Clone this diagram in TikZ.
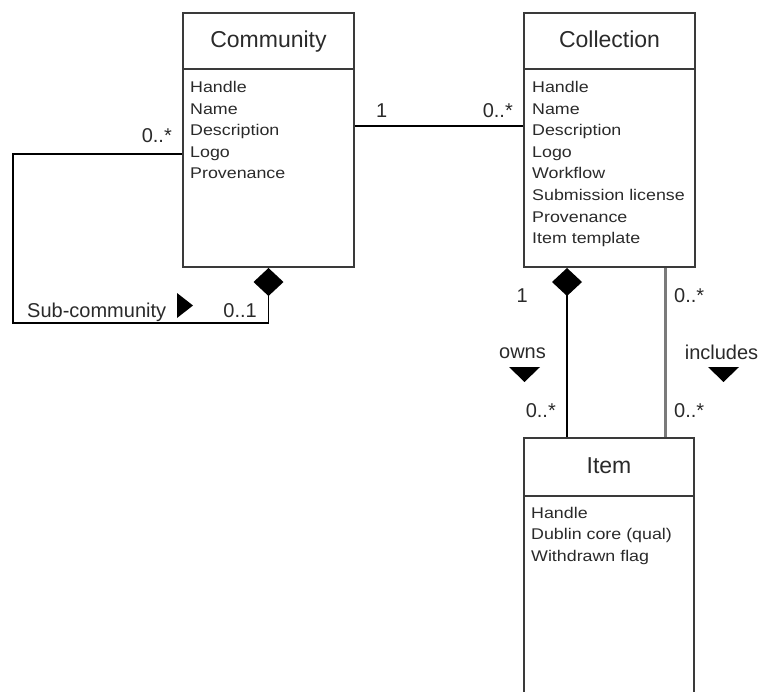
\documentclass[tikz,border=0pt]{standalone}
\usepackage{fontspec}
\setmainfont{Liberation Sans}
\newfontfamily\attrfont[FakeStretch=1.15]{Liberation Sans}
\usetikzlibrary{arrows.meta,calc}
\definecolor{boxgray}{HTML}{3A3A3A}
\definecolor{txt}{HTML}{2A2A2A}
\definecolor{lightline}{HTML}{7A7A7A}
\begin{document}
\begin{tikzpicture}[x=1pt,y=-1pt,
  box/.style={draw=boxgray, line width=2pt, inner sep=0pt},
  title/.style={font=\fontsize{23}{27}\selectfont, text=txt, inner sep=0pt, anchor=base},
  attr/.style={font=\attrfont\fontsize{15.5}{21.6}\selectfont, text=txt, inner sep=0pt, anchor=base west},
  lbl/.style={font=\fontsize{20}{24}\selectfont, text=txt, inner sep=0pt},
  conn/.style={line width=1.8pt, draw=black},
  comp/.style={-{Diamond[length=28pt,width=30pt]}},
  tri/.style={fill=black}]
\useasboundingbox (0,0) rectangle (759,691);
\clip (0,0) rectangle (759,691);
% boxes
\node[box, minimum width=171pt, minimum height=254pt] (comm) at (268.5,140) {};
\node[box, minimum width=171pt, minimum height=254pt] (coll) at (609.5,140) {};
\node[box, minimum width=170pt, minimum height=330pt] (item) at (609,603) {};
% header separators
\coordinate (hdA) at (0,69);
\coordinate (hdB) at (0,496);
\draw[draw=boxgray, line width=2pt] (comm.west |- hdA) -- (comm.east |- hdA);
\draw[draw=boxgray, line width=2pt] (coll.west |- hdA) -- (coll.east |- hdA);
\draw[draw=boxgray, line width=2pt] (item.west |- hdB) -- (item.east |- hdB);
% titles
\node[title] (commT) at (268.5,47) {Community};
\node[title] (collT) at (609.5,47) {Collection};
\node[title] (itemT) at (609,473) {Item};
% attributes
\foreach \t [count=\i from 0] in {Handle,Name,Description,Logo,Provenance}
  \node[attr] (commA\i) at (190,{92.5+\i*21.6}) {\t};
\foreach \t [count=\i from 0] in {Handle,Name,Description,Logo,Workflow,Submission license,Provenance,Item template}
  \node[attr] (collA\i) at (532,{92.5+\i*21.6}) {\t};
\foreach \t [count=\i from 0] in {Handle,Dublin core (qual),Withdrawn flag}
  \node[attr] (itemA\i) at (531,{518+\i*21.5}) {\t};
% self association
\coordinate (lpA) at (13,154);
\coordinate (lpB) at (13,323);
\draw[conn, comp] (comm.west |- lpA) -- (lpA) -- (lpB) -- (lpB -| comm.south) -- (comm.south);
% community - collection
\coordinate (lc) at (0,126);
\draw[conn] (comm.east |- lc) -- (coll.west |- lc);
% owns / includes
\coordinate (ow) at (567,0);
\coordinate (inc) at (665.5,0);
\draw[conn, comp] (item.north -| ow) -- (coll.south -| ow);
\draw[conn, line width=2.6pt, draw=lightline] (item.north -| inc) -- (coll.south -| inc);
% labels
\node[lbl, anchor=base east] (l1) at (172,142) {0..*};
\node[lbl, anchor=base west] (l2) at (27,317) {Sub-community};
\node[lbl, anchor=base east] (l3) at (257,317) {0..1};
\node[lbl, anchor=base west] (l4) at (376,117) {1};
\node[lbl, anchor=base east] (l5) at (513,117) {0..*};
\node[lbl, anchor=base east] (l6) at (528,302) {1};
\node[lbl, anchor=base west] (l7) at (674,302) {0..*};
\node[lbl, anchor=base] (l8) at (522.5,358) {owns};
\node[lbl, anchor=base] (l9) at (721.5,359) {includes};
\node[lbl, anchor=base east] (l10) at (556,417) {0..*};
\node[lbl, anchor=base west] (l11) at (674,417) {0..*};
% direction triangles
\fill[tri] (177,293) -- (193,305.5) -- (177,318) -- cycle;
\fill[tri] (509,367) -- (540,367) -- (524.5,382) -- cycle;
\fill[tri] (708,367) -- (739,367) -- (723.5,382) -- cycle;
\end{tikzpicture}
\end{document}
